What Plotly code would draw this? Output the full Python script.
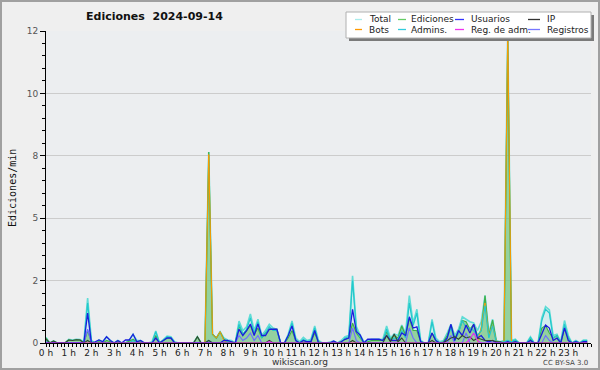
import plotly.graph_objects as go

# 10-minute bins over the day (minutes since midnight)
minutes = list(range(0, 1440, 10))
hour_labels = [f"{h} h" for h in range(24)]

total = [
    0.22, 0, 0.08, 0, 0, 0, 0.15, 0.12, 0.15, 0.14, 0.05, 1.8,
    0.1, 0, 0.12, 0.05, 0.25, 0.1, 0, 0.1, 0, 0, 0.12, 0.35,
    0.1, 0.1, 0, 0, 0.05, 0.48, 0, 0.15, 0.28, 0.25, 0.05, 0,
    0, 0, 0, 0.02, 0.25, 0, 0, 7.65, 0.35, 0.2, 0.45, 0.2,
    0.12, 0.1, 0, 0.88, 0.5, 0.65, 1.16, 0.5, 0.95, 0.3, 0.5, 0.75,
    0.6, 0.55, 0, 0, 0.35, 0.88, 0.2, 0.05, 0.23, 0.1, 0.15, 0.68,
    0.1, 0, 0, 0.05, 0.08, 0, 0.1, 0.25, 0.3, 2.69, 0.66, 0.32,
    0.05, 0.1, 0.15, 0.15, 0.15, 0.15, 0.68, 0.2, 0.36, 0.3, 0.72, 0.4,
    1.9, 0.8, 1.35, 0.1, 0, 0, 0.95, 0.2, 0.05, 0.1, 0.4, 0.75,
    0.3, 0.55, 1.05, 0.95, 0.85, 0.8, 0.5, 0.85, 1.9, 0.4, 0.95, 0.1,
    0.05, 0.1, 12.5, 0.1, 0.15, 0, 0, 0, 0.25, 0, 0, 1.0,
    1.46, 1.33, 0.3, 0.35, 0.05, 0.9, 0.3, 0, 0.1, 0, 0.12, 0.12,
]
ediciones = [
    0.2, 0, 0.08, 0, 0, 0, 0.12, 0.1, 0.13, 0.12, 0, 0.5,
    0.05, 0, 0.05, 0, 0.1, 0.05, 0, 0.05, 0, 0, 0.08, 0.15,
    0.05, 0.05, 0, 0, 0, 0.3, 0, 0.1, 0.2, 0.2, 0, 0,
    0, 0, 0, 0, 0.25, 0, 0, 7.65, 0.35, 0.2, 0.45, 0.15,
    0.05, 0.05, 0, 0.7, 0.35, 0.5, 0.7, 0.35, 0.6, 0.2, 0.4, 0.55,
    0.55, 0.55, 0, 0, 0.2, 0.5, 0.1, 0, 0.1, 0.05, 0.05, 0.4,
    0.05, 0, 0, 0, 0.05, 0, 0.05, 0.15, 0.2, 0.8, 0.4, 0.2,
    0, 0.05, 0.1, 0.1, 0.1, 0.1, 0.45, 0.15, 0.3, 0.2, 0.68, 0.3,
    1.0, 0.5, 0.5, 0.05, 0, 0, 0.4, 0.1, 0, 0.05, 0.3, 0.7,
    0.2, 0.45, 0.9, 0.85, 0.55, 0.75, 0.3, 0.5, 1.9, 0.3, 0.92, 0.05,
    0, 0.05, 12.3, 0.05, 0.1, 0, 0, 0, 0.15, 0, 0, 0.6,
    0.7, 0.4, 0.2, 0.3, 0, 0.6, 0.2, 0, 0.05, 0, 0.08, 0.08,
]
usuarios = [
    0, 0, 0, 0, 0, 0, 0, 0, 0, 0, 0, 1.2,
    0, 0.05, 0.12, 0.05, 0.25, 0.1, 0, 0.1, 0, 0.12, 0.12, 0.35,
    0.05, 0.1, 0, 0, 0, 0.2, 0, 0.1, 0.2, 0.2, 0, 0,
    0, 0, 0, 0, 0, 0, 0, 0, 0, 0, 0, 0.1,
    0.1, 0.05, 0, 0.55, 0.3, 0.5, 0.76, 0.3, 0.76, 0.3, 0.3, 0.55,
    0.55, 0.55, 0, 0, 0.3, 0.68, 0.1, 0, 0.1, 0.05, 0.05, 0.5,
    0, 0, 0, 0, 0.08, 0, 0.05, 0.15, 0.2, 1.35, 0.45, 0.32,
    0, 0.15, 0.15, 0.15, 0.15, 0.1, 0.3, 0.1, 0.1, 0.1, 0.4, 0.3,
    1.05, 0.6, 0.65, 0.05, 0, 0, 0.4, 0.1, 0, 0, 0.2, 0.75,
    0.1, 0.5, 0.3, 0.72, 0.4, 0.75, 0.2, 0.3, 0.1, 0.05, 0.1, 0,
    0, 0, 0.05, 0, 0.05, 0, 0, 0, 0.1, 0, 0, 0.4,
    0.72, 0.6, 0.1, 0.2, 0, 0.6, 0.1, 0, 0.05, 0, 0.05, 0.05,
]
ip = [
    0.15, 0, 0.08, 0, 0, 0, 0.12, 0.1, 0.13, 0.12, 0, 0.1,
    0, 0, 0, 0, 0, 0, 0, 0, 0, 0, 0, 0,
    0, 0, 0, 0, 0, 0, 0, 0, 0, 0, 0, 0,
    0, 0, 0, 0, 0.25, 0, 0, 0.1, 0, 0, 0, 0,
    0, 0, 0, 0, 0, 0, 0, 0, 0, 0, 0, 0.1,
    0, 0, 0, 0, 0, 0, 0, 0, 0, 0, 0, 0,
    0, 0, 0, 0, 0, 0, 0, 0, 0, 0.1, 0, 0,
    0, 0, 0, 0, 0, 0, 0.3, 0.05, 0.36, 0.05, 0.2, 0,
    0, 0, 0, 0, 0, 0, 0.1, 0, 0, 0, 0.1, 0.2,
    0.25, 0.15, 0.3, 0.2, 0.25, 0.1, 0.2, 0.15, 0.1, 0.1, 0.1, 0.05,
    0.05, 0, 0, 0, 0, 0, 0, 0, 0, 0, 0, 0,
    0, 0, 0, 0, 0, 0, 0, 0, 0, 0, 0, 0,
]
bots = [
    0, 0, 0, 0, 0, 0, 0, 0, 0, 0, 0, 0,
    0, 0, 0, 0, 0, 0, 0, 0, 0, 0, 0, 0,
    0, 0, 0, 0, 0, 0, 0, 0, 0, 0, 0, 0,
    0, 0, 0, 0, 0, 0, 0, 7.55, 0.35, 0.2, 0.45, 0.1,
    0, 0, 0, 0, 0, 0, 0, 0, 0, 0, 0, 0,
    0, 0, 0, 0, 0, 0, 0, 0, 0, 0, 0, 0,
    0, 0, 0, 0, 0, 0, 0, 0, 0, 0, 0, 0,
    0, 0, 0, 0, 0, 0, 0, 0, 0, 0, 0, 0,
    0, 0, 0, 0, 0, 0, 0, 0, 0, 0, 0, 0,
    0, 0, 0, 0, 0, 0, 0, 0.65, 1.6, 0.3, 0.72, 0.05,
    0, 0, 12.5, 0, 0, 0, 0, 0, 0, 0, 0, 0,
    0, 0, 0, 0, 0, 0, 0, 0, 0, 0, 0, 0,
]
admins = [
    0.1, 0, 0, 0, 0, 0, 0, 0, 0, 0, 0, 1.6,
    0.05, 0, 0, 0, 0, 0, 0, 0, 0, 0, 0, 0.1,
    0, 0, 0, 0, 0, 0.45, 0, 0.1, 0.25, 0.22, 0, 0,
    0, 0, 0, 0, 0, 0, 0, 0.1, 0, 0, 0, 0,
    0.05, 0, 0, 0.75, 0.35, 0.55, 1.0, 0.4, 0.85, 0.2, 0.4, 0.65,
    0.5, 0.5, 0, 0, 0.3, 0.8, 0.1, 0, 0.15, 0.05, 0.1, 0.6,
    0, 0, 0, 0, 0, 0, 0, 0.2, 0.25, 2.5, 0.55, 0.25,
    0, 0, 0, 0, 0, 0, 0.55, 0.1, 0.2, 0.15, 0.5, 0.2,
    1.6, 0.7, 1.2, 0.05, 0, 0, 0.85, 0.1, 0, 0, 0.2, 0.6,
    0.1, 0.4, 0.9, 0.6, 0.6, 0.5, 0.3, 0.5, 1.5, 0.2, 0.7, 0,
    0, 0.05, 0.1, 0.05, 0.12, 0, 0, 0, 0.22, 0, 0, 0.9,
    1.35, 1.2, 0.2, 0.3, 0, 0.75, 0.2, 0, 0.08, 0, 0.1, 0.1,
]
reg_adm = [
    0, 0, 0, 0, 0, 0, 0, 0, 0, 0, 0, 0,
    0, 0, 0, 0, 0, 0, 0, 0, 0, 0, 0, 0,
    0, 0, 0, 0, 0, 0, 0, 0, 0, 0, 0, 0,
    0, 0, 0, 0, 0, 0, 0, 0, 0, 0, 0, 0,
    0, 0, 0, 0, 0, 0, 0, 0, 0, 0, 0, 0.05,
    0, 0, 0, 0, 0, 0, 0, 0, 0, 0, 0, 0,
    0, 0, 0, 0, 0, 0, 0, 0, 0, 0, 0, 0,
    0, 0, 0, 0, 0, 0, 0, 0, 0, 0, 0, 0,
    0, 0, 0, 0, 0, 0, 0, 0, 0, 0, 0, 0,
    0, 0, 0, 0, 0.15, 0.4, 0.1, 0, 0, 0, 0, 0,
    0, 0, 0, 0, 0, 0, 0, 0, 0, 0, 0, 0,
    0, 0, 0, 0, 0, 0, 0, 0, 0, 0, 0, 0,
]
registros = [
    0, 0, 0, 0, 0, 0, 0, 0, 0, 0, 0, 0.55,
    0, 0, 0, 0, 0, 0, 0, 0, 0, 0, 0, 0,
    0, 0, 0, 0, 0, 0, 0, 0, 0, 0, 0, 0,
    0, 0, 0, 0, 0, 0, 0, 0, 0, 0, 0, 0,
    0, 0, 0, 0.3, 0.1, 0.2, 0.4, 0.1, 0.3, 0, 0, 0,
    0, 0, 0, 0, 0, 0, 0, 0, 0, 0, 0, 0,
    0, 0, 0, 0, 0, 0, 0, 0, 0, 0.6, 0.1, 0,
    0, 0, 0, 0, 0, 0, 0, 0, 0, 0, 0, 0,
    0.6, 0.2, 0, 0, 0, 0, 0, 0, 0, 0, 0, 0.3,
    0, 0, 0, 0.4, 0, 0, 0, 0, 0, 0, 0, 0,
    0, 0, 0, 0, 0, 0, 0, 0, 0, 0, 0, 0,
    0.3, 0.1, 0, 0, 0, 0, 0, 0, 0, 0, 0, 0,
]

y_tickvals = [0, 2.5, 5, 7.5, 10, 12.5]
y_ticktext = ["0", "2", "5", "8", "10", "12"]

hours = [m / 60 for m in minutes]

# plot area geometry (pixels)
L, R, T, B = 46, 591, 31, 343
W, H = 600, 370


def px(x):
    return (x - L) / (R - L)


def py(y):
    return (B - y) / (B - T)


fig = go.Figure()

def add(y, color, width=1.3, fill=None, fillcolor=None):
    fig.add_trace(go.Scatter(
        x=hours, y=y, mode="lines",
        line=dict(color=color, width=width, shape="linear"),
        fill=fill, fillcolor=fillcolor, showlegend=False, hoverinfo="skip"))

add(total, "#5fdcd6", 1.6, "tozeroy", "rgba(150,235,235,0.30)")
add(ediciones, "#3fb048", 1.2, "tozeroy", "rgba(95,185,95,0.55)")
add(bots, "#ff9a00", 1.0)
add(admins, "#22c8cc", 1.2)
add(registros, "#6f6fff", 1.2)
add(usuarios, "#1c1cdd", 1.3)
add(ip, "#334433", 1.1)
add(reg_adm, "#dd33ee", 1.2)

shapes = []
# outer border
shapes.append(dict(type="rect", xref="paper", yref="paper",
                   x0=px(1), x1=px(W - 1), y0=py(H - 1), y1=py(1),
                   line=dict(color="#a0a0a0", width=2), fillcolor="rgba(0,0,0,0)", layer="below"))
# legend shadow + box
shapes.append(dict(type="rect", xref="paper", yref="paper",
                   x0=px(349), x1=px(594), y0=py(41), y1=py(15),
                   line=dict(width=0), fillcolor="#7a7a7a"))
shapes.append(dict(type="rect", xref="paper", yref="paper",
                   x0=px(346), x1=px(591), y0=py(38), y1=py(12),
                   line=dict(color="#b0b0b0", width=1), fillcolor="#ffffff"))

legend_items = [
    ("Total", "#a8ecec", 355, 362, 367, 19.5),
    ("Ediciones", "#66cc66", 398, 406, 409, 19.5),
    ("Usuarios", "#3333ff", 455, 464, 469, 19.5),
    ("IP", "#333333", 528, 540, 545, 19.5),
    ("Bots", "#ff9900", 355, 362, 367, 29.5),
    ("Admins.", "#33ccdd", 398, 406, 409, 29.5),
    ("Reg. de adm.", "#ee33ee", 455, 464, 469, 29.5),
    ("Registros", "#7777ff", 528, 540, 545, 29.5),
]
annotations = []
for name, col, lx0, lx1, tx, ty in legend_items:
    shapes.append(dict(type="line", xref="paper", yref="paper",
                       x0=px(lx0), x1=px(lx1), y0=py(ty), y1=py(ty),
                       line=dict(color=col, width=1.3)))
    annotations.append(dict(text=name, xref="paper", yref="paper", x=px(tx), y=py(ty),
                            xanchor="left", yanchor="middle", showarrow=False,
                            font=dict(family="DejaVu Sans", size=9, color="#222222")))

annotations += [
    dict(text="Ediciones\u00a0\u00a02024-09-14", xref="paper", yref="paper",
         x=px(154), y=py(17), xanchor="center", yanchor="middle", showarrow=False,
         font=dict(family="DejaVu Sans", size=11, color="#111111", weight="bold")),
    dict(text="Ediciones/min", xref="paper", yref="paper", x=px(12), y=py(188),
         xanchor="center", yanchor="middle", textangle=-90, showarrow=False,
         font=dict(family="DejaVu Sans Mono", size=10, color="#111111")),
    dict(text="wikiscan.org", xref="paper", yref="paper", x=px(300), y=py(362),
         xanchor="center", yanchor="middle", showarrow=False,
         font=dict(family="DejaVu Sans", size=9, color="#333333")),
    dict(text="CC BY-SA 3.0", xref="paper", yref="paper", x=px(590), y=py(363),
         xanchor="right", yanchor="middle", showarrow=False,
         font=dict(family="DejaVu Sans", size=7, color="#444444")),
]

fig.update_layout(
    width=W, height=H, autosize=False,
    margin=dict(l=L, r=W - R, t=T, b=H - B, pad=0),
    paper_bgcolor="#efefef", plot_bgcolor="#eceef0",
    shapes=shapes, annotations=annotations, showlegend=False,
    xaxis=dict(range=[0, 24], tickvals=list(range(24)), ticktext=hour_labels, tickangle=0,
               ticks="outside", ticklen=3, tickcolor="#000", tickwidth=1,
               ticklabelstandoff=-2,
               showline=True, linecolor="#000", linewidth=1, showgrid=False, zeroline=False,
               tickfont=dict(family="DejaVu Sans", size=9, color="#222"),
               minor=dict(dtick=1 / 6, ticks="outside", ticklen=3, tickcolor="#000", showgrid=False)),
    yaxis=dict(range=[0, 12.5], tickvals=y_tickvals, ticktext=y_ticktext,
               ticks="outside", ticklen=5, tickcolor="#000", tickwidth=1,
               showline=True, linecolor="#000", linewidth=1,
               showgrid=True, gridcolor="#cccccc", gridwidth=1, zeroline=False,
               tickfont=dict(family="DejaVu Sans", size=9, color="#555"),
               minor=dict(dtick=0.5, ticks="outside", ticklen=3, tickcolor="#000", showgrid=False)),
)

fig.write_html("out.html", config={"displayModeBar": False},
               post_script="document.body.style.margin='0';document.body.style.overflow='hidden';")
